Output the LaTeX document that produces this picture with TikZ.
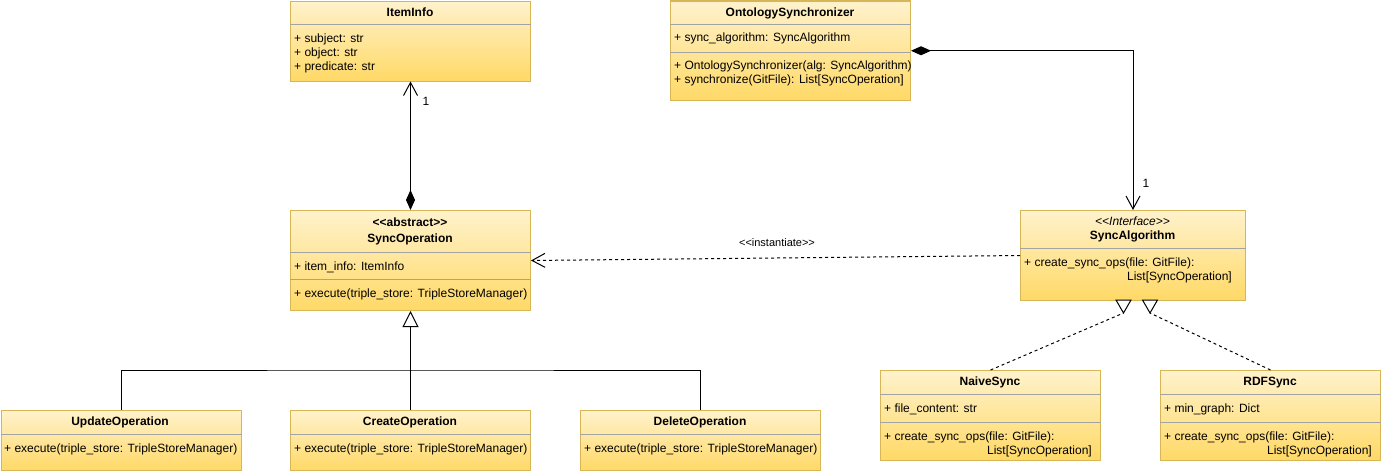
\documentclass[tikz,border=0pt]{standalone}
\usepackage{fontspec}
\setmainfont{Liberation Sans}
\usetikzlibrary{arrows.meta,calc}
\definecolor{umltop}{HTML}{FFF2CC}
\definecolor{umlbot}{HTML}{FFD966}
\definecolor{umlbrd}{HTML}{D6B656}
\definecolor{umlsep}{HTML}{A3A3A3}
\newcommand\dlt{<\kern0pt<}
\newcommand\dgt{>\kern0pt>}
\begin{document}
\begin{tikzpicture}[x=1pt,y=-1pt,
  umlbox/.style 2 args={draw=umlbrd, line width=1pt, top color=umltop, bottom color=umlbot,
    anchor=north west, inner sep=0pt, minimum width=#1, minimum height=#2},
  sepline/.style={draw=umlsep, line width=1pt},
  member/.style={anchor=west, inner sep=0pt, text height=8.6pt, text depth=0pt,
    font=\fontsize{12}{14}\selectfont},
  memberR/.style={member, anchor=east},
  ttl/.style={anchor=center, inner sep=0pt, text height=8.6pt, text depth=0pt,
    font=\fontsize{12}{14}\selectfont\bfseries},
  stereo/.style={anchor=center, inner sep=0pt, text height=8.6pt, text depth=0pt,
    font=\fontsize{12}{14}\selectfont\itshape},
  lbl/.style={inner sep=0pt, font=\fontsize{12}{14}\selectfont},
  elbl/.style={inner sep=0pt, font=\fontsize{11}{13}\selectfont},
  conn/.style={line width=1pt, draw=black},
  dash3/.style={dash pattern=on 3pt off 3pt},
  openhead/.style={-{Straight Barb[length=13pt,width=14pt]}},
]
\useasboundingbox (0,0) rectangle (1381,471);

% ---------- boxes ----------
\node[umlbox={240}{80}] (item) at (290,0.5) {};
\draw[sepline] ($(item.north west)+(0,24)$) -- ($(item.north east)+(0,24)$);
\node[ttl] (itemT) at (410,12) {ItemInfo};
\node[member] (itemA1) at (294,38) {+ subject: str};
\node[member] (itemA2) at (294,52) {+ object: str};
\node[member] (itemA3) at (294,66) {+ predicate: str};

\node[umlbox={240}{99.5}] (onto) at (670,0.5) {};
\draw[sepline] ($(onto.north west)+(0,24)$) -- ($(onto.north east)+(0,24)$);
\draw[sepline] ($(onto.north west)+(0,52)$) -- ($(onto.north east)+(0,52)$);
\node[ttl] (ontoT) at (790,12) {OntologySynchronizer};
\node[member] (ontoA) at (674,37) {+ sync\_algorithm: SyncAlgorithm};
\node[member] (ontoM1) at (674,65) {+ OntologySynchronizer(alg: SyncAlgorithm)};
\node[member] (ontoM2) at (674,79) {+ synchronize(GitFile): List[SyncOperation]};

\node[umlbox={240}{100}] (syncop) at (290,210) {};
\draw[sepline] ($(syncop.north west)+(0,42)$) -- ($(syncop.north east)+(0,42)$);
\draw[sepline] ($(syncop.north west)+(0,69)$) -- ($(syncop.north east)+(0,69)$);
\node[ttl] (syncopS) at (410,222) {\dlt abstract\dgt};
\node[ttl] (syncopT) at (410,238) {SyncOperation};
\node[member] (syncopA) at (294,266) {+ item\_info: ItemInfo};
\node[member] (syncopM) at (294,293) {+ execute(triple\_store: TripleStoreManager)};

\node[umlbox={225}{90}] (salg) at (1020,210) {};
\draw[sepline] ($(salg.north west)+(0,38)$) -- ($(salg.north east)+(0,38)$);
\node[stereo] (salgS) at (1132.5,221) {\dlt Interface\dgt};
\node[ttl] (salgT) at (1132.5,235) {SyncAlgorithm};
\node[member] (salgM1) at (1024,262) {+ create\_sync\_ops(file: GitFile):};
\node[memberR] (salgM2) at (1232,276) {List[SyncOperation]};

\node[umlbox={220}{90}] (naive) at (880,370) {};
\draw[sepline] ($(naive.north west)+(0,24)$) -- ($(naive.north east)+(0,24)$);
\draw[sepline] ($(naive.north west)+(0,52)$) -- ($(naive.north east)+(0,52)$);
\node[ttl] (naiveT) at (990,381) {NaiveSync};
\node[member] (naiveA) at (884,408) {+ file\_content: str};
\node[member] (naiveM1) at (884,436) {+ create\_sync\_ops(file: GitFile):};
\node[memberR] (naiveM2) at (1092,450) {List[SyncOperation]};

\node[umlbox={220}{90}] (rdf) at (1160,370) {};
\draw[sepline] ($(rdf.north west)+(0,24)$) -- ($(rdf.north east)+(0,24)$);
\draw[sepline] ($(rdf.north west)+(0,52)$) -- ($(rdf.north east)+(0,52)$);
\node[ttl] (rdfT) at (1270,381) {RDFSync};
\node[member] (rdfA) at (1164,408) {+ min\_graph: Dict};
\node[member] (rdfM1) at (1164,436) {+ create\_sync\_ops(file: GitFile):};
\node[memberR] (rdfM2) at (1372,450) {List[SyncOperation]};

\node[umlbox={240}{60}] (update) at (0.5,410) {};
\draw[sepline] ($(update.north west)+(0,24)$) -- ($(update.north east)+(0,24)$);
\node[ttl] (updateT) at (120,421) {UpdateOperation};
\node[member] (updateM) at (4,448) {+ execute(triple\_store: TripleStoreManager)};

\node[umlbox={240}{60}] (create) at (290,410) {};
\draw[sepline] ($(create.north west)+(0,24)$) -- ($(create.north east)+(0,24)$);
\node[ttl] (createT) at (410,421) {CreateOperation};
\node[member] (createM) at (294,448) {+ execute(triple\_store: TripleStoreManager)};

\node[umlbox={240}{60}] (delete) at (580,410) {};
\draw[sepline] ($(delete.north west)+(0,24)$) -- ($(delete.north east)+(0,24)$);
\node[ttl] (deleteT) at (700,421) {DeleteOperation};
\node[member] (deleteM) at (584,448) {+ execute(triple\_store: TripleStoreManager)};

% ---------- connectors ----------
\draw[conn, {Diamond[length=20pt,width=9pt]}-{Straight Barb[length=13pt,width=14pt]}]
  (syncop.north) -- (item.south);
\node[lbl] (m1) at (426,101) {1};

\draw[conn, {Diamond[length=20pt,width=9pt]}-{Straight Barb[length=13pt,width=14pt]}]
  (onto.east) -| (salg.north);
\node[lbl] (m2) at (1146,183) {1};

\draw[conn, dash3, openhead] (salg.west) -- (syncop.east);
\node[elbl] (inst) at (777,243) {\dlt instantiate\dgt};

\coordinate (gj) at (410,370);
\draw[conn, -{Triangle[length=16pt,width=16pt,fill=white]}] (create.north) -- (syncop.south);
\draw[conn] (update.north) |- (gj) -| (delete.north);

\coordinate (tL) at (1123.5,313);
\coordinate (tR) at (1150,313);
\draw[conn, dash3] (naive.north) -- (tL);
\draw[conn, dash3] (rdf.north) -- (tR);
\draw[conn, fill=white] (tL) -- ++(-7.5,-13) -- ++(15,0) -- cycle;
\draw[conn, fill=white] (tR) -- ++(-7.5,-13) -- ++(15,0) -- cycle;
\end{tikzpicture}
\end{document}
